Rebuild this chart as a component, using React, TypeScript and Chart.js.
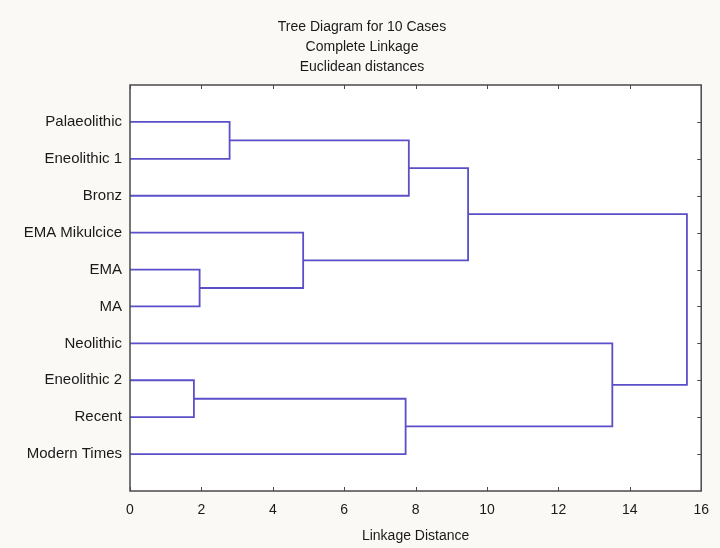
import { useEffect, useRef } from "react";
import { Chart, registerables } from "chart.js";

Chart.register(...registerables);

// ---- data ----
const caseLabels = [
  "Palaeolithic",
  "Eneolithic 1",
  "Bronz",
  "EMA Mikulcice",
  "EMA",
  "MA",
  "Neolithic",
  "Eneolithic 2",
  "Recent",
  "Modern Times",
];
// cluster merges: node indices 0..9 are cases, 10+ are merged clusters in order
const mergeLeft = [0, 4, 7, 10, 3, 12, 13, 6, 16];
const mergeRight = [1, 5, 8, 2, 11, 9, 14, 15, 17];
const mergeDistance = [2.79, 1.95, 1.79, 7.81, 4.85, 7.72, 9.47, 13.51, 15.6];
const xTickValues = [0, 2, 4, 6, 8, 10, 12, 14, 16];
const titleLines = ["Tree Diagram for 10 Cases", "Complete Linkage", "Euclidean distances"];
const xAxisTitle = "Linkage Distance";

const FONT = "'Liberation Sans', Arial, sans-serif";
const LINK_COLOR = "#5a4fc8";
const FRAME_COLOR = "#4a4a4a";

function buildLinks() {
  const pos: number[] = caseLabels.map((_, i) => i + 1);
  const height: number[] = caseLabels.map(() => 0);
  const links: { x: number; y: number }[][] = [];
  mergeDistance.forEach((d, k) => {
    const a = mergeLeft[k];
    const b = mergeRight[k];
    links.push([
      { x: height[a], y: pos[a] },
      { x: d, y: pos[a] },
      { x: d, y: pos[b] },
      { x: height[b], y: pos[b] },
    ]);
    pos.push((pos[a] + pos[b]) / 2);
    height.push(d);
  });
  return links;
}

const framePlugin = {
  id: "frame",
  beforeDraw(chart: any) {
    const { ctx, chartArea, width, height } = chart;
    ctx.save();
    ctx.fillStyle = "#faf9f5";
    ctx.fillRect(0, 0, width, height);
    ctx.fillStyle = "#ffffff";
    ctx.fillRect(chartArea.left, chartArea.top, chartArea.right - chartArea.left, chartArea.bottom - chartArea.top);
    ctx.restore();
  },
  afterDraw(chart: any) {
    const { ctx, chartArea, width } = chart;
    const xs = chart.scales.x;
    const ys = chart.scales.y;
    const { left, right, top, bottom } = chartArea;
    ctx.save();
    ctx.strokeStyle = FRAME_COLOR;
    ctx.lineWidth = 1.5;
    ctx.strokeRect(left, top, right - left, bottom - top);
    ctx.lineWidth = 1;
    ctx.beginPath();
    xTickValues.forEach((v) => {
      const px = Math.round(xs.getPixelForValue(v)) + 0.5;
      ctx.moveTo(px, bottom);
      ctx.lineTo(px, bottom - 4);
      ctx.moveTo(px, top);
      ctx.lineTo(px, top + 4);
    });
    caseLabels.forEach((_, i) => {
      const py = Math.round(ys.getPixelForValue(i + 1)) + 0.5;
      ctx.moveTo(right, py);
      ctx.lineTo(right - 4, py);
    });
    ctx.stroke();

    // title
    const cx = width / 2 + 2;
    ctx.fillStyle = "#1a1a1a";
    ctx.font = `14px ${FONT}`;
    ctx.textAlign = "center";
    ctx.textBaseline = "middle";
    const titleY = [27, 47, 67];
    titleLines.forEach((t, i) => {
      ctx.fillText(t, cx, titleY[i]);
    });
    ctx.restore();
  },
};

export default function App() {
  const canvasRef = useRef<HTMLCanvasElement | null>(null);

  useEffect(() => {
    if (!canvasRef.current) return;
    const links = buildLinks();
    const chart = new Chart(canvasRef.current, {
      type: "scatter",
      data: {
        datasets: links.map((pts) => ({
          data: pts,
          showLine: true,
          borderColor: LINK_COLOR,
          borderWidth: 1.8,
          pointRadius: 0,
          fill: false,
          tension: 0,
        })),
      },
      options: {
        animation: false,
        responsive: true,
        maintainAspectRatio: false,
        layout: { padding: { top: 85, right: 18, left: 0, bottom: 0 } },
        plugins: {
          legend: { display: false },
          tooltip: { enabled: false },
          title: { display: false },
        },
        scales: {
          x: {
            type: "linear",
            position: "bottom",
            min: 0,
            max: 16,
            afterBuildTicks: (s: any) => {
              s.ticks = xTickValues.map((v) => ({ value: v }));
            },
            afterFit: (s: any) => {
              s.height = 57;
            },
            ticks: {
              font: { family: FONT, size: 14 },
              color: "#1a1a1a",
              padding: 11,
              maxRotation: 0,
              autoSkip: false,
            },
            title: {
              display: true,
              text: xAxisTitle,
              font: { family: FONT, size: 14 },
              color: "#1a1a1a",
              padding: { top: 0, bottom: 3 },
            },
            grid: { display: false, drawTicks: false },
            border: { display: false },
          },
          y: {
            type: "linear",
            min: 0,
            max: 11,
            reverse: true,
            afterBuildTicks: (s: any) => {
              s.ticks = caseLabels.map((_, i) => ({ value: i + 1 }));
            },
            afterFit: (s: any) => {
              s.width = 130;
            },
            ticks: {
              callback: (v: any) => caseLabels[Number(v) - 1] ?? "",
              font: { family: FONT, size: 15 },
              color: "#1a1a1a",
              padding: 8,
              autoSkip: false,
            },
            grid: { display: false, drawTicks: false },
            border: { display: false },
          },
        },
      },
      plugins: [framePlugin],
    });
    return () => chart.destroy();
  }, []);

  return (
    <div style={{ position: "fixed", left: 0, top: 0, width: 720, height: 548 }}>
      <canvas ref={canvasRef} />
    </div>
  );
}
